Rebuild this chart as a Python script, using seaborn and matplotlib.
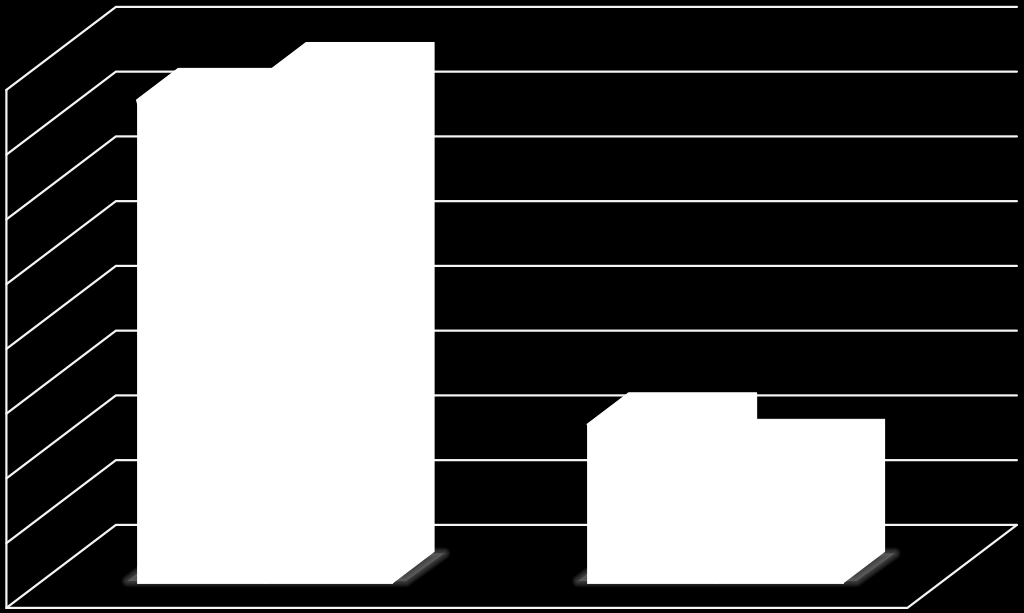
import numpy as np
import pandas as pd
import seaborn as sns
import matplotlib.pyplot as plt
from matplotlib.patches import Polygon

# values (no labels in the original)
grupos = ["A", "B"]
serie_1 = [7.46, 2.45]
serie_2 = [7.86, 2.04]
niveles = [0, 1, 2, 3, 4, 5, 6, 7, 8]

df = pd.DataFrame({
    "grupo": grupos + grupos,
    "serie": ["s1", "s1", "s2", "s2"],
    "valor": serie_1 + serie_2,
})

# pixel scale of the plane where the bars stand
PX_X = 450.5
PX_Y = 64.75
DX = 109.5 / PX_X   # whole depth of the floor in data units
DY = 83 / PX_Y
Z_BAR = 0.30        # depth of bar front face
Z_FONDO = 0.38      # depth of the bar itself


def pr(x, y, z):
    # z = 0 front of the floor, z = 1 back wall
    return x + (z - Z_BAR) * DX, y + (z - Z_BAR) * DY


sns.set_theme(style="white")
fig = plt.figure(figsize=(10.24, 6.13), dpi=100, facecolor="black")
ax = fig.add_axes([0, 0, 1, 1])
ax.set_facecolor("black")

sns.barplot(data=df, x="grupo", y="valor", hue="serie", order=grupos,
            palette=["white", "white"], saturation=1, width=0.568, gap=0,
            legend=False, ax=ax, zorder=5, edgecolor="white", linewidth=0.6)

ax.set_xlim(-264.5 / PX_X, (1024 - 264.5) / PX_X)
ax.set_ylim(-30 / PX_Y, 583 / PX_Y)
ax.axis("off")

# walls and floor
x0, x1 = -0.5, 1.5
linea = dict(color="#f5f5f5", lw=1.6, solid_capstyle="round", solid_joinstyle="miter", zorder=2)
for n in niveles:
    xs, ys = zip(pr(x0, n, 0), pr(x0, n, 1), pr(x1, n, 1))
    ax.plot(xs, ys, **linea)
xs, ys = zip(pr(x1, niveles[0], 1), pr(x1, niveles[0], 0), pr(x0, niveles[0], 0), pr(x0, niveles[-1], 0))
ax.plot(xs, ys, **linea)

# bars in depth, built from the bars seaborn drew
barras = [p for p in ax.patches if p.get_height() > 0]
ddx, ddy = Z_FONDO * DX, Z_FONDO * DY
for b in barras:
    bx, bw, bh = b.get_x(), b.get_width(), b.get_height()
    b.set_joinstyle("round")
    cara = [(bx, bh), (bx + ddx, bh + ddy), (bx + bw + ddx, bh + ddy),
            (bx + bw + ddx, ddy), (bx + bw, 0)]
    ax.add_patch(Polygon(cara, closed=True, fc="white", ec="white", lw=0.8,
                         joinstyle="round", zorder=5))

# soft shadow on the floor
for i in range(len(grupos)):
    par = sorted([b for b in barras if abs(b.get_x() + b.get_width() - i) < 0.01 or abs(b.get_x() - i) < 0.01],
                 key=lambda b: b.get_x())
    izq = par[0].get_x()
    der = par[-1].get_x() + par[-1].get_width()
    sombra = [(izq - 0.02, 0.03), (izq + 0.06, ddy - 0.03), (der + 0.115, ddy - 0.03), (der + 0.03, 0.03)]
    for lw in np.arange(9, 0, -0.75):
        ax.add_patch(Polygon(sombra, closed=True, fc="#8a8a8a", ec="#8a8a8a", lw=lw,
                             alpha=0.05, joinstyle="round", zorder=3))

fig.savefig("out.png", dpi=100, facecolor="black")
